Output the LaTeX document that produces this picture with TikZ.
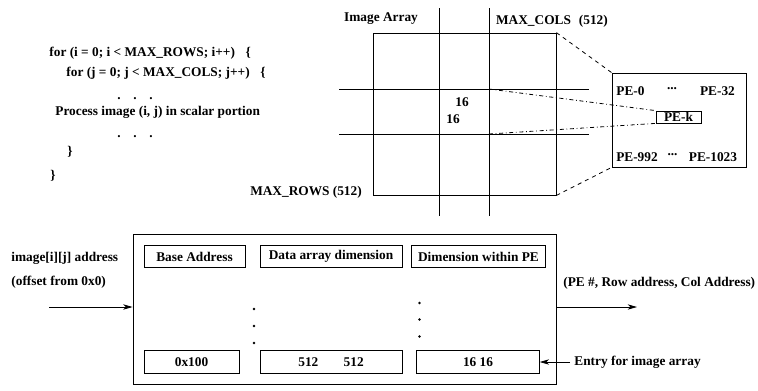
\documentclass[tikz,border=0pt]{standalone}
\usepackage{fontspec}
\setmainfont{Liberation Serif}
\usetikzlibrary{arrows.meta}

\tikzset{
  txt/.style={font=\bfseries\fontsize{10}{12}\selectfont, inner sep=0pt},
  cellbox/.style={draw, txt, minimum height=17pt},
  arr/.style={-{Stealth[length=7pt,width=4pt,inset=2pt]}},
  thinline/.style={line width=0.6pt}
}

\begin{document}
\begin{tikzpicture}[x=0.75pt,y=-0.75pt,thinline]
	\useasboundingbox (0,0) rectangle (758,390);
	% code fragment
	\node[txt,anchor=west] (loopi) at (49,53) {for (i = 0; i < MAX\_ROWS; i++)\hspace{8pt}\{};
	\node[txt,anchor=west] (loopj) at (66,73) {for (j = 0; j < MAX\_COLS; j++)\hspace{8pt}\{};
	\node[txt] (dotsa) at (135,99) {.\hspace{9.5pt}.\hspace{9.5pt}.};
	\node[txt,anchor=west] (proc) at (55,112) {Process image (i, j) in scalar portion};
	\node[txt] (dotsb) at (135,137) {.\hspace{9.5pt}.\hspace{9.5pt}.};
	\node[txt,anchor=west] (closej) at (67,152) {\}};
	\node[txt,anchor=west] (closei) at (50,176) {\}};
	% image array
	\node[draw,minimum width=137.25pt,minimum height=121.5pt,inner sep=0pt] (imgarr) at (464.5,114) {};
	\draw (439,8) to (439,216);
	\draw (489,8) to (489,216);
	\draw (339,89) to (589,89);
	\draw (339,134) to (589,134);
	\coordinate (blktop) at (489,89);
	\coordinate (blkbot) at (489,134);
	\node[txt] (imgname) at (381,19) {Image Array};
	\node[txt] (maxcols) at (552,21) {MAX\_COLS\hspace{6pt}(512)};
	\node[txt] (maxrows) at (306,192) {MAX\_ROWS (512)};
	\node[txt] (blkw) at (462,102) {16};
	\node[txt] (blkh) at (453,119) {16};
	% PE array
	\node[draw,minimum width=100.5pt,minimum height=70.5pt,inner sep=0pt] (pebox) at (679,120) {};
	\node[draw,txt,minimum width=33.75pt,minimum height=9pt] (pek) at (678.5,117) {PE-k};
	\node[txt] (pefirst) at (630.5,91) {PE-0};
	\node[txt] (petopdots) at (672,89) {...};
	\node[txt] (perow) at (717.5,91) {PE-32};
	\node[txt] (pelastrow) at (637,157) {PE-992};
	\node[txt] (pebotdots) at (672.5,155) {...};
	\node[txt] (pelast) at (713,157) {PE-1023};
	\draw[dashed] (imgarr.north east) to (pebox.north west);
	\draw[dashed] (imgarr.south east) to (pebox.south west);
	\draw[dash dot] (blktop) to (pek.north west);
	\draw[dash dot] (blkbot) to (pek.south west);
	% mapping table
	\node[draw,minimum width=317.25pt,minimum height=112.5pt,inner sep=0pt] (tbl) at (344.5,309) {};
	\node[cellbox,minimum width=75.75pt] (base) at (194.5,256.5) {Base Address};
	\node[cellbox,minimum width=106.5pt] (dim) at (331,256.5) {Data array dimension};
	\node[cellbox,minimum width=100pt] (pedim) at (478.5,256.5) {Dimension within PE};
	\node[cellbox,minimum width=71.25pt] (baseval) at (191.5,362) {0x100};
	\node[cellbox,minimum width=106.5pt] (dimval) at (331,362) {512\hspace{19pt}512};
	\node[cellbox,minimum width=92pt] (pedimval) at (478,362) {16 16};
	\fill (254,309) circle [radius=1.3];
	\fill (254,326) circle [radius=1.3];
	\fill (254,343) circle [radius=1.3];
	\fill (419.5,303) circle [radius=1.3];
	\fill (419.5,319.5) circle [radius=1.3];
	\fill (419.5,336.5) circle [radius=1.3];
	% address in / out
	\node[txt,anchor=west] (addr) at (11,258) {image[i][j] address};
	\node[txt,anchor=west] (offs) at (11,282) {(offset from 0x0)};
	\coordinate (insrc) at (49,307);
	\draw[arr] (insrc) to (insrc -| tbl.west);
	\node[txt,anchor=west] (result) at (563,283) {(PE \#, Row address, Col Address)};
	\coordinate (outend) at (637,307);
	\draw[arr] (outend -| tbl.east) to (outend);
	\node[txt,anchor=west] (entry) at (574,362) {Entry for image array};
	\draw[arr] ([xshift=-3pt]entry.west) to (pedimval.east);
\end{tikzpicture}
\end{document}
